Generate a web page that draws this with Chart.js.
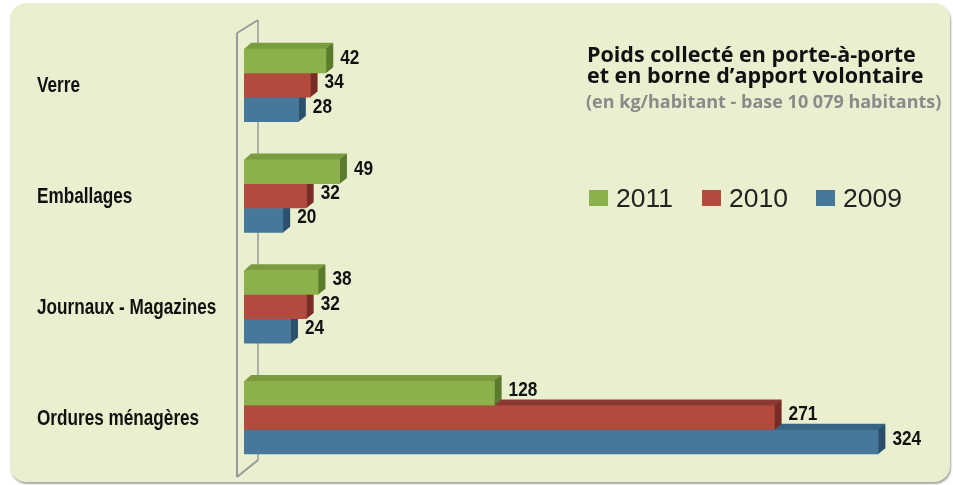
<!DOCTYPE html>
<html>
<head>
<meta charset="utf-8">
<script src="https://cdn.jsdelivr.net/npm/chart.js@4/dist/chart.umd.min.js"></script>
<style>
  html, body { margin:0; padding:0; background:#ffffff; }
  #wrap { position:relative; width:953px; height:485px; overflow:hidden; }
  #panel { position:absolute; left:10px; top:3px; width:940px; height:479px; background:#eaf0cf; border-radius:16px; box-shadow:1px 2px 2px rgba(0,0,0,0.35); }
  #c { position:absolute; left:0; top:0; }
  .t { position:absolute; white-space:nowrap; font-family:"Open Sans", "Noto Sans", sans-serif; font-weight:bold; color:#111; }
  #legend { position:absolute; left:589px; top:186px; height:24px; }
  .li { position:absolute; top:0; }
  .sw { position:absolute; top:4px; width:19px; height:16px; }
  .lt { position:absolute; left:27px; top:-3px; font-family:"Liberation Sans", Arial, sans-serif; font-size:26.5px; color:#222; white-space:nowrap; }
</style>
</head>
<body>
<div id="wrap">
  <div id="panel"></div>
  <canvas id="c" width="953" height="485"></canvas>
  <div class="t" style="left:587px; top:39px; font-size:21.5px;">Poids collecté en porte-à-porte</div>
  <div class="t" style="left:587px; top:60px; font-size:21.5px;">et en borne d’apport volontaire</div>
  <div class="t" style="left:586px; top:89px; font-size:18px; color:#8a8a8a;">(en kg/habitant - base 10 079 habitants)</div>
  <div id="legend"></div>
</div>
<script>
const categories = ["Verre", "Emballages", "Journaux - Magazines", "Ordures ménagères"];
const seriesLabels = ["2011", "2010", "2009"];
const values2011 = [42, 49, 38, 128];
const values2010 = [34, 32, 32, 271];
const values2009 = [28, 20, 24, 324];

const palette = [
  { front: "#8cb04b", top: "#7a9c3f", side: "#5c7a2e" },
  { front: "#b24b3e", top: "#8c3a31", side: "#772c25" },
  { front: "#46789c", top: "#386383", side: "#2c506c" }
];
const labelFont = 'bold 22px "Liberation Sans", Arial, sans-serif';
const valueFont = 'bold 21px "Liberation Sans", Arial, sans-serif';
const NARROW = 0.78;

const seriesValues = [values2011, values2010, values2009];

// HTML legend built from the series
const legendEl = document.getElementById("legend");
const legendX = [0, 113, 227];
seriesLabels.forEach((lab, i) => {
  const item = document.createElement("div");
  item.className = "li";
  item.style.left = legendX[i] + "px";
  const sw = document.createElement("div");
  sw.className = "sw";
  sw.style.background = palette[i].front;
  const tx = document.createElement("div");
  tx.className = "lt";
  tx.textContent = lab;
  item.appendChild(sw); item.appendChild(tx);
  legendEl.appendChild(item);
});

const DX = 7, DY = 6;

function narrowText(ctx, text, x, y, font, sx) {
  ctx.save();
  ctx.font = font;
  ctx.textAlign = "left";
  ctx.textBaseline = "middle";
  ctx.translate(x, y);
  ctx.scale(sx, 1);
  ctx.fillText(text, 0, 0);
  ctx.restore();
}

const threeD = {
  id: "threeD",
  beforeDatasetsDraw(chart) {
    const ctx = chart.ctx;
    const a = chart.chartArea;
    const x0 = chart.scales.x.getPixelForValue(0);
    // wall
    ctx.save();
    ctx.strokeStyle = "#9a9a9a";
    ctx.lineWidth = 2;
    ctx.beginPath();
    ctx.moveTo(x0 - 7, a.top + 3); ctx.lineTo(x0 - 7, a.bottom + 4);
    ctx.moveTo(x0 - 7, a.top + 3); ctx.lineTo(x0 + 14, a.top - 10);
    ctx.moveTo(x0 - 7, a.bottom + 4); ctx.lineTo(x0 + 14, a.bottom - 13);
    ctx.stroke();
    ctx.lineWidth = 1.5;
    ctx.beginPath();
    ctx.moveTo(x0 + 14, a.top - 10); ctx.lineTo(x0 + 14, a.bottom - 13);
    ctx.stroke();
    // faces
    for (let d = chart.data.datasets.length - 1; d >= 0; d--) {
      const meta = chart.getDatasetMeta(d);
      meta.data.forEach(el => {
        const p = el.getProps(["x", "y", "base", "height"], true);
        const top = p.y - p.height / 2, bottom = p.y + p.height / 2;
        ctx.fillStyle = palette[d].top;
        ctx.beginPath();
        ctx.moveTo(p.base, top + 0.5);
        ctx.lineTo(p.base + DX, top - DY);
        ctx.lineTo(p.x + DX, top - DY);
        ctx.lineTo(p.x, top + 0.5);
        ctx.closePath(); ctx.fill();
        ctx.fillStyle = palette[d].side;
        ctx.beginPath();
        ctx.moveTo(p.x - 0.5, top);
        ctx.lineTo(p.x + DX, top - DY);
        ctx.lineTo(p.x + DX, bottom - DY);
        ctx.lineTo(p.x - 0.5, bottom);
        ctx.closePath(); ctx.fill();
      });
    }
    ctx.restore();
  },
  afterDatasetsDraw(chart) {
    const ctx = chart.ctx;
    ctx.save();
    ctx.fillStyle = "#111";
    chart.data.datasets.forEach((ds, d) => {
      chart.getDatasetMeta(d).data.forEach((el, j) => {
        const p = el.getProps(["x", "y"], true);
        narrowText(ctx, String(ds.data[j]), p.x + 14, p.y - 3, valueFont, 0.82);
      });
    });
    // category labels at the y-scale tick positions
    const ys = chart.scales.y;
    chart.data.labels.forEach((lab, i) => {
      narrowText(ctx, lab, 37, ys.getPixelForTick(i) + 1, labelFont, NARROW);
    });
    ctx.restore();
  }
};

new Chart(document.getElementById("c"), {
  type: "bar",
  data: {
    labels: categories,
    datasets: seriesLabels.map((lab, i) => ({
      label: lab,
      data: seriesValues[i],
      backgroundColor: palette[i].front,
      borderWidth: 0,
      categoryPercentage: 0.66,
      barPercentage: 1.0
    }))
  },
  options: {
    indexAxis: "y",
    responsive: false,
    animation: false,
    events: [],
    layout: { padding: { left: 37, right: 10, top: 30, bottom: 12 } },
    plugins: { legend: { display: false }, tooltip: { enabled: false }, title: { display: false } },
    scales: {
      x: { display: false, min: 0, max: 357 },
      y: {
        grid: { display: false },
        border: { display: false },
        ticks: { display: false },
        afterFit(scale) { scale.width = 207; }
      }
    }
  },
  plugins: [threeD]
});
</script>
</body>
</html>
